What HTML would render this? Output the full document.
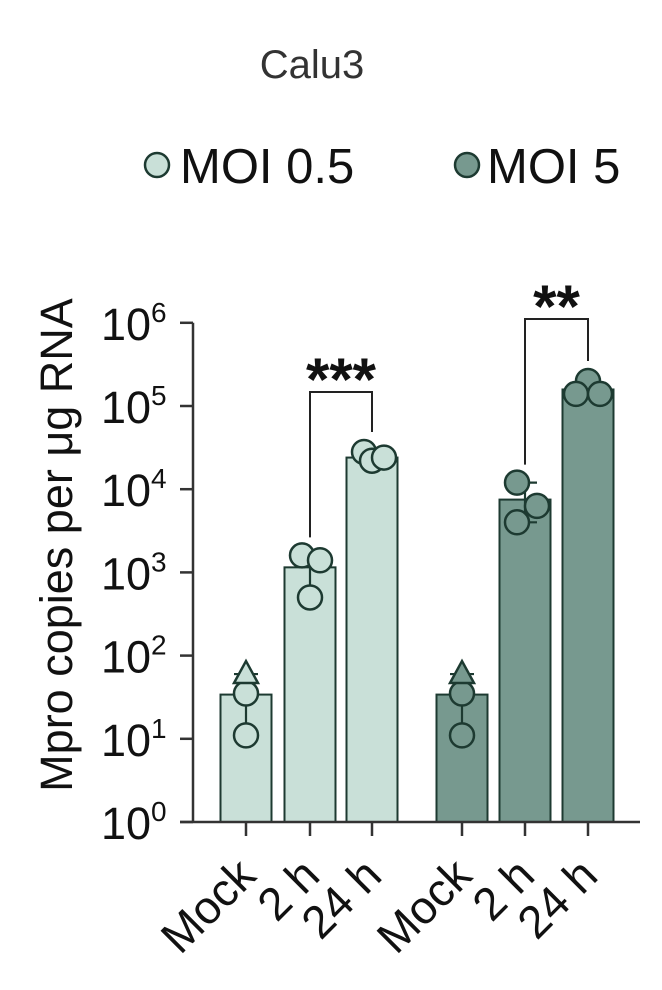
<!DOCTYPE html>
<html><head><meta charset="utf-8"><style>
html,body{margin:0;padding:0;background:#fff;}
svg{display:block;font-family:"Liberation Sans",Arial,sans-serif;}
</style></head><body>
<svg id="chart" width="662" height="990" viewBox="0 0 662 990" xmlns="http://www.w3.org/2000/svg">
<text x="312" y="78" font-size="40" fill="#333" text-anchor="middle">Calu3</text>
<g>
<circle cx="157" cy="165" r="12" fill="#c9e0d8" stroke="#1d3a31" stroke-width="2.5"/>
<text x="180" y="183" font-size="49" fill="#111">MOI 0.5</text>
<circle cx="467" cy="165" r="12" fill="#77998f" stroke="#1d3a31" stroke-width="2.5"/>
<text x="487" y="183" font-size="49" fill="#111">MOI 5</text>
</g>
<text transform="translate(72,545) rotate(-90)" font-size="45" fill="#111" text-anchor="middle">Mpro copies per μg RNA</text>
<g id="plot"></g>
</svg>
<script>
const categories = ["Mock","2 h","24 h","Mock","2 h","24 h"];
const groups = ["moi05","moi05","moi05","moi5","moi5","moi5"];
const barMeans = [34, 1150, 24000, 34, 7500, 158000];
const pointsCircle = [[35, 11],[1600,1400,500],[28000,22000,24000],[35,11],[12000,6300,4000],[200000,140000,140000]];
const pointsTriangle = [[60],[],[],[60],[],[]];
const errLow = [11, 500, 22000, 11, 4000, 140000];
const errHigh = [60, 1600, 28000, 60, 12000, 200000];
const yTickExps = [0,1,2,3,4,5,6];
const sigLabels = ["***","**"];
const sigPairs = [[1,2],[4,5]];

const NS="http://www.w3.org/2000/svg";
const plot=document.getElementById('plot');
const y0=822, decade=83.2;
function yScale(v){return y0-Math.log10(v)*decade;}
const xCenters=[246,310,372,462,525,588];
function xScale(i){return xCenters[i];}
const barW=51;
const colors={moi05:"#c9e0d8",moi5:"#77998f"};
const stroke="#1d3a31";
function mk(tag,attrs,parent){const e=document.createElementNS(NS,tag);for(const k in attrs)e.setAttribute(k,attrs[k]);(parent||plot).appendChild(e);return e;}

categories.forEach((c,i)=>{
  const yt=yScale(barMeans[i]);
  const r=mk('rect',{x:xScale(i)-barW/2,y:yt,width:barW,height:y0-yt,fill:colors[groups[i]],stroke:stroke,'stroke-width':2});
  
  
});
categories.forEach((c,i)=>{
  const x=xScale(i);
  const g=mk('g',{stroke:stroke,'stroke-width':2.2,fill:'none'});
  
  
  const a=yScale(errLow[i]),b=yScale(errHigh[i]);
  mk('line',{x1:x,x2:x,y1:a,y2:b},g);
  mk('line',{x1:x-12,x2:x+12,y1:a,y2:a},g);
  mk('line',{x1:x-12,x2:x+12,y1:b,y2:b},g);
});
const offs=[[0,0],[-8,10,0],[-8,0,12],[0,0],[-8,12,-8],[0,-12,12]];
categories.forEach((c,i)=>{
  pointsCircle[i].forEach((v,j)=>{
    const p=mk('circle',{cx:xScale(i)+(offs[i][j]||0),cy:yScale(v),r:12,fill:colors[groups[i]],stroke:stroke,'stroke-width':2.5});
    
    
  });
  pointsTriangle[i].forEach(v=>{
    const x=xScale(i),y=yScale(v);
    const t=mk('polygon',{points:`${x},${y-13} ${x-12},${y+9} ${x+12},${y+9}`,fill:colors[groups[i]],stroke:stroke,'stroke-width':2.5});
    
    
  });
});
const ax=mk('g',{stroke:'#333','stroke-width':2.5,fill:'none'});


mk('line',{x1:193,x2:193,y1:yScale(1e6),y2:y0},ax);
mk('line',{x1:180,x2:640,y1:y0,y2:y0},ax);
yTickExps.forEach(e=>{
  const y=yScale(Math.pow(10,e));
  mk('line',{x1:180,x2:193,y1:y,y2:y},ax);
  const t=mk('text',{x:151,y:y+17,'font-size':45,fill:'#111','text-anchor':'end'});
  
  
  t.textContent='10';
  const s=mk('text',{x:151,y:y-1,'font-size':28,fill:'#111','text-anchor':'start'});
  
  
  s.textContent=String(e);
});
categories.forEach((c,i)=>{
  const x=xScale(i);
  mk('line',{x1:x,x2:x,y1:y0,y2:y0+14},ax);
  const t=mk('text',{transform:`translate(${x+12},878) rotate(-45)`,'font-size':46,fill:'#111','text-anchor':'end'});
  
  
  t.textContent=c;
});
sigPairs.forEach((pr,k)=>{
  const xa=xScale(pr[0]),xb=xScale(pr[1]);
  const topV=Math.max(...pointsCircle[pr[1]]);
  const yTop=yScale(topV)-(k===0?60:62);
  const ya=yScale(Math.max(...pointsCircle[pr[0]]))-18;
  const yb=yScale(topV)-20;
  const p=mk('path',{d:`M${xa},${ya} L${xa},${yTop} L${xb},${yTop} L${xb},${yb}`,stroke:'#222','stroke-width':2,fill:'none'});
  
  
  const t=mk('text',{x:(xa+xb)/2,y:yTop+8,'font-size':60,'font-weight':'bold',fill:'#111','text-anchor':'middle'});
  
  
  t.textContent=sigLabels[k];
});
</script>
</body></html>
